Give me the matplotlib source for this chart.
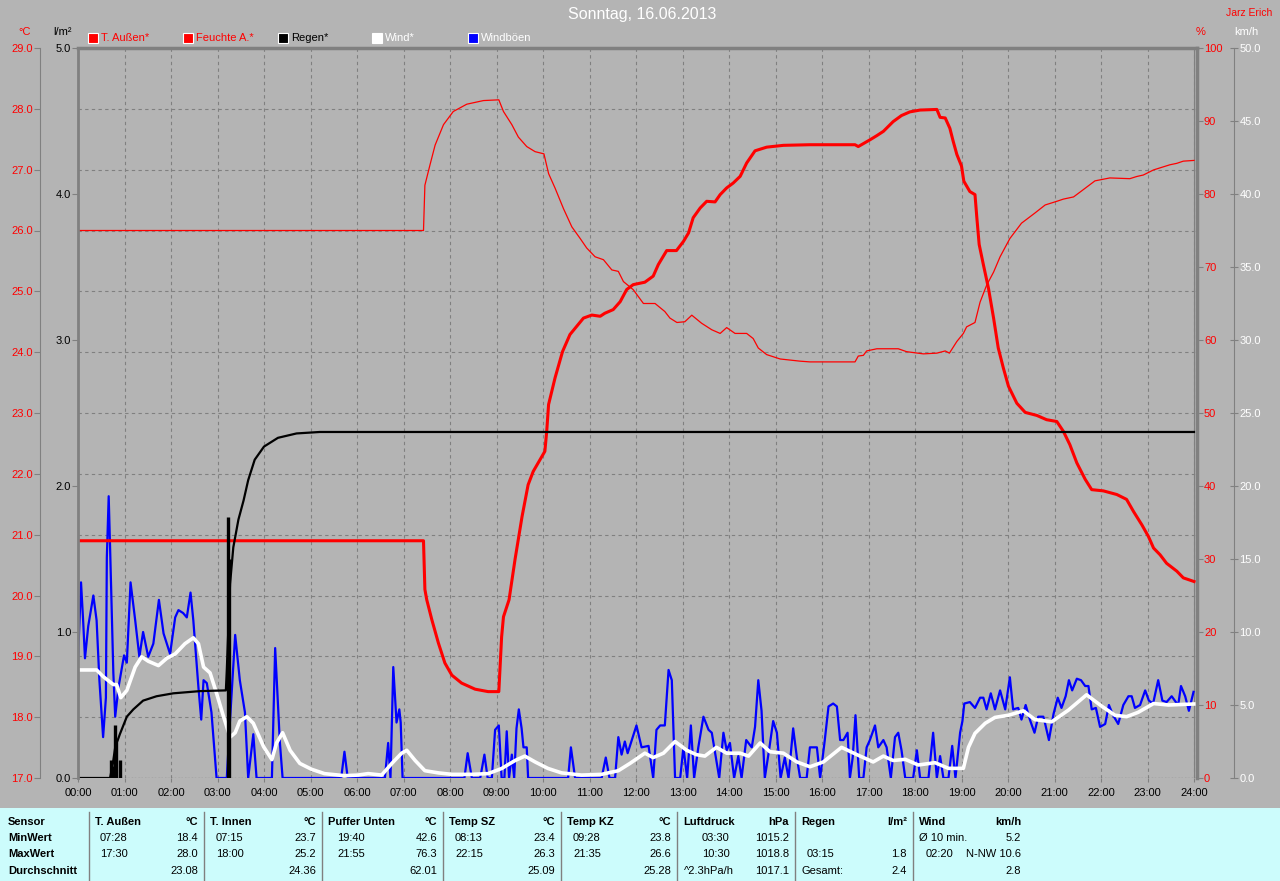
import matplotlib
matplotlib.use("Agg")
import matplotlib.pyplot as plt
from matplotlib.patches import Rectangle
from matplotlib.lines import Line2D
import numpy as np

plt.rcParams['font.family'] = ['Liberation Sans', 'DejaVu Sans']

# ---- data: (hour of day, value) ----
temp_pts = [
    (0.00, 20.9), (7.43, 20.9), (7.46, 20.1), (7.50, 19.93), (7.61, 19.6), (7.75, 19.22), (7.89, 18.89),
    (8.04, 18.69), (8.25, 18.56), (8.54, 18.46), (8.82, 18.42), (9.05, 18.42), (9.11, 19.32), (9.15, 19.65),
    (9.27, 19.93), (9.40, 20.6), (9.55, 21.3), (9.68, 21.82), (9.79, 22.04), (10.04, 22.37), (10.08, 22.70),
    (10.12, 23.14), (10.19, 23.36), (10.26, 23.58), (10.42, 24.01), (10.58, 24.29), (10.87, 24.56),
    (11.05, 24.61), (11.23, 24.59), (11.33, 24.64), (11.51, 24.70), (11.66, 24.83), (11.80, 25.03),
    (11.94, 25.11), (12.19, 25.15), (12.37, 25.25), (12.48, 25.44), (12.66, 25.67), (12.87, 25.67),
    (13.02, 25.82), (13.13, 25.96), (13.23, 26.21), (13.38, 26.37), (13.52, 26.48), (13.70, 26.47),
    (13.81, 26.59), (13.95, 26.70), (14.09, 26.78), (14.24, 26.89), (14.38, 27.11), (14.56, 27.31),
    (14.81, 27.37), (15.17, 27.40), (15.74, 27.41), (16.71, 27.41), (16.78, 27.38), (17.03, 27.49),
    (17.18, 27.56), (17.32, 27.63), (17.53, 27.79), (17.71, 27.89), (17.89, 27.95), (18.11, 27.98),
    (18.47, 27.99), (18.54, 27.86), (18.65, 27.85), (18.75, 27.68), (18.82, 27.47), (18.90, 27.25),
    (19.00, 27.06), (19.05, 26.81), (19.18, 26.64), (19.29, 26.59), (19.33, 26.21), (19.38, 25.77),
    (19.47, 25.44), (19.58, 25.05), (19.69, 24.56), (19.79, 24.07), (19.90, 23.74), (20.01, 23.44),
    (20.19, 23.16), (20.37, 23.01), (20.62, 22.96), (20.83, 22.89), (21.05, 22.86), (21.19, 22.70),
    (21.33, 22.48), (21.48, 22.18), (21.66, 21.91), (21.80, 21.74), (22.05, 21.72), (22.34, 21.66),
    (22.55, 21.58), (22.70, 21.38), (22.88, 21.16), (23.02, 20.97), (23.13, 20.78), (23.27, 20.67),
    (23.41, 20.53), (23.63, 20.40), (23.77, 20.29), (24.00, 20.23),
]

hum_pts = [
    (0.00, 75.0), (7.43, 75.0), (7.46, 81.2), (7.57, 84.0), (7.68, 86.7), (7.86, 89.5), (8.07, 91.3),
    (8.36, 92.3), (8.72, 92.8), (9.05, 92.9), (9.15, 91.3), (9.33, 89.5), (9.47, 87.8), (9.65, 86.5),
    (9.83, 85.8), (10.02, 85.5), (10.12, 82.8), (10.26, 80.8), (10.44, 78.0), (10.62, 75.5), (10.80, 73.9),
    (10.94, 72.6), (11.12, 71.4), (11.30, 71.0), (11.48, 69.6), (11.62, 69.4), (11.73, 68.0), (11.94, 66.9),
    (12.16, 65.0), (12.41, 65.0), (12.62, 63.9), (12.73, 63.0), (12.88, 62.4), (13.05, 62.5), (13.20, 63.4),
    (13.41, 62.3), (13.63, 61.4), (13.81, 60.9), (13.95, 61.7), (14.13, 60.9), (14.38, 60.9), (14.52, 60.2),
    (14.63, 58.9), (14.81, 58.0), (15.10, 57.4), (15.53, 57.1), (15.74, 57.0), (16.71, 57.0), (16.78, 57.8),
    (16.89, 57.9), (16.96, 58.5), (17.18, 58.8), (17.64, 58.8), (17.82, 58.4), (18.18, 58.1), (18.47, 58.2),
    (18.65, 58.5), (18.74, 58.2), (18.90, 59.8), (19.04, 60.9), (19.11, 61.8), (19.29, 62.4), (19.40, 65.2),
    (19.54, 67.5), (19.69, 69.3), (19.83, 71.4), (20.04, 73.9), (20.29, 76.0), (20.58, 77.4), (20.80, 78.5),
    (21.05, 79.0), (21.19, 79.3), (21.41, 79.6), (21.62, 80.6), (21.87, 81.8), (22.19, 82.2), (22.62, 82.1),
    (22.77, 82.4), (22.91, 82.6), (23.13, 83.3), (23.48, 84.0), (23.63, 84.2), (23.77, 84.5), (24.00, 84.6),
]

rain_sum_pts = [
    (0.00, 0.0), (0.69, 0.0), (0.75, 0.10), (0.80, 0.21), (0.90, 0.30), (1.05, 0.42), (1.19, 0.47),
    (1.40, 0.53), (1.69, 0.56), (2.05, 0.58), (2.62, 0.595), (3.18, 0.60), (3.20, 0.74), (3.27, 1.33),
    (3.34, 1.58), (3.45, 1.77), (3.56, 1.90), (3.66, 2.04), (3.80, 2.18), (4.00, 2.27), (4.30, 2.33),
    (4.70, 2.36), (5.20, 2.37), (24.00, 2.37),
]

rain_rate_t = [0.72, 0.74, 0.80, 0.82, 0.90, 3.22, 3.25]
rain_rate_v = [0.12, 0.08, 0.36, 0.25, 0.12, 1.79, 1.50]

wind_pts = [
    (0.00, 7.4), (0.40, 7.4), (0.54, 6.95), (0.76, 6.4), (0.83, 6.4), (0.92, 5.5), (1.05, 6.0), (1.23, 7.6),
    (1.37, 8.3), (1.51, 8.0), (1.73, 7.7), (1.91, 8.2), (2.09, 8.5), (2.30, 9.2), (2.48, 9.6), (2.59, 9.2),
    (2.70, 7.6), (2.84, 7.2), (2.98, 5.8), (3.13, 4.2), (3.27, 2.8), (3.38, 3.1), (3.48, 3.9), (3.63, 4.2),
    (3.77, 3.75), (3.99, 2.15), (4.17, 1.26), (4.27, 2.4), (4.40, 3.1), (4.56, 1.9), (4.77, 1.0),
    (5.02, 0.6), (5.30, 0.3), (5.73, 0.16), (6.02, 0.2), (6.24, 0.3), (6.53, 0.2), (6.75, 1.0), (6.96, 1.7),
    (7.07, 1.9), (7.25, 1.2), (7.46, 0.5), (7.75, 0.35), (8.04, 0.25), (8.47, 0.25), (8.82, 0.3),
    (9.11, 0.65), (9.40, 1.2), (9.61, 1.5), (9.83, 1.1), (10.11, 0.65), (10.40, 0.35), (10.83, 0.2),
    (11.26, 0.25), (11.62, 0.5), (11.87, 1.0), (12.19, 1.7), (12.37, 1.4), (12.59, 1.7), (12.84, 2.5),
    (13.09, 1.9), (13.30, 1.6), (13.48, 1.5), (13.73, 2.1), (13.95, 1.7), (14.24, 1.7), (14.42, 1.5),
    (14.67, 2.4), (14.88, 1.8), (15.17, 1.7), (15.46, 1.1), (15.74, 0.77), (16.03, 1.1), (16.42, 2.1),
    (16.75, 1.6), (17.10, 1.1), (17.32, 1.5), (17.53, 1.2), (17.79, 1.28), (18.07, 0.89), (18.43, 1.05),
    (18.72, 0.66), (19.04, 0.66), (19.15, 2.1), (19.29, 3.06), (19.51, 3.75), (19.72, 4.15), (20.01, 4.3),
    (20.33, 4.6), (20.58, 4.0), (20.94, 3.85), (21.30, 4.65), (21.69, 5.7), (22.01, 4.93), (22.30, 4.3),
    (22.55, 4.2), (22.80, 4.5), (23.13, 5.1), (23.45, 5.0), (24.00, 5.07),
]

gust_pts = [
    (0.00, 8.1), (0.065, 13.4), (0.11, 10.8), (0.15, 8.2), (0.22, 10.4), (0.33, 12.5), (0.40, 10.8),
    (0.46, 6.7), (0.54, 2.8), (0.60, 5.5), (0.62, 15.1), (0.66, 19.3), (0.69, 15.8), (0.76, 7.2),
    (0.80, 4.2), (0.87, 6.2), (0.99, 8.4), (1.05, 7.9), (1.13, 13.4), (1.23, 10.8), (1.32, 8.3),
    (1.40, 10.0), (1.51, 8.3), (1.62, 9.2), (1.74, 12.2), (1.84, 9.9), (1.98, 8.5), (2.09, 11.0),
    (2.16, 11.5), (2.26, 11.3), (2.34, 11.0), (2.42, 12.7), (2.48, 10.8), (2.59, 6.2), (2.65, 4.0),
    (2.70, 6.7), (2.77, 6.5), (2.87, 4.5), (2.98, 0.0), (3.20, 0.0), (3.27, 4.0), (3.38, 9.8), (3.48, 6.7),
    (3.59, 4.5), (3.66, 0.0), (3.77, 3.0), (3.84, 0.0), (4.17, 0.0), (4.24, 8.9), (4.34, 2.5), (4.40, 0.0),
    (5.66, 0.0), (5.73, 1.8), (5.80, 0.0), (6.60, 0.0), (6.67, 2.4), (6.72, 0.0), (6.78, 7.6), (6.85, 3.8),
    (6.91, 4.7), (6.94, 3.8), (6.98, 0.0), (8.31, 0.0), (8.38, 1.7), (8.47, 0.0), (8.65, 0.0), (8.74, 1.6),
    (8.81, 0.0), (8.90, 0.0), (8.97, 3.3), (9.05, 3.6), (9.11, 0.0), (9.17, 0.0), (9.22, 3.2), (9.27, 0.0),
    (9.33, 1.6), (9.38, 0.0), (9.43, 3.4), (9.48, 4.7), (9.54, 3.4), (9.58, 2.1), (9.65, 2.1), (9.68, 0.0),
    (10.54, 0.0), (10.60, 2.1), (10.69, 0.0), (11.26, 0.0), (11.35, 1.4), (11.43, 0.0), (11.55, 0.0),
    (11.62, 2.8), (11.69, 1.6), (11.76, 2.5), (11.82, 1.7), (12.01, 3.6), (12.12, 2.1), (12.27, 2.2),
    (12.37, 0.0), (12.44, 3.3), (12.52, 3.6), (12.62, 3.6), (12.70, 7.4), (12.77, 6.7), (12.84, 0.0),
    (12.95, 0.0), (13.02, 2.1), (13.10, 0.0), (13.18, 3.6), (13.25, 0.0), (13.34, 2.1), (13.45, 4.2),
    (13.56, 3.3), (13.63, 3.1), (13.79, 0.0), (13.88, 3.1), (13.95, 1.9), (14.02, 2.4), (14.11, 0.0),
    (14.20, 1.5), (14.27, 0.0), (14.37, 2.6), (14.49, 2.1), (14.56, 3.5), (14.63, 6.7), (14.70, 4.6),
    (14.77, 0.0), (14.87, 2.1), (14.95, 3.9), (15.03, 3.1), (15.11, 0.0), (15.20, 1.4), (15.28, 0.0),
    (15.38, 3.4), (15.46, 1.4), (15.53, 0.0), (15.67, 0.0), (15.74, 2.1), (15.89, 2.1), (15.96, 0.0),
    (16.06, 2.6), (16.14, 4.9), (16.24, 5.1), (16.32, 4.9), (16.39, 2.6), (16.46, 2.6), (16.55, 3.1),
    (16.60, 0.0), (16.66, 1.4), (16.72, 4.3), (16.80, 0.0), (16.89, 0.0), (16.96, 2.1), (17.03, 2.6),
    (17.14, 3.6), (17.21, 2.1), (17.32, 2.6), (17.39, 2.1), (17.48, 0.0), (17.57, 2.8), (17.64, 3.1),
    (17.71, 1.9), (17.79, 0.0), (17.96, 0.0), (18.04, 1.9), (18.11, 0.0), (18.29, 0.0), (18.39, 3.1),
    (18.47, 0.0), (18.54, 1.5), (18.61, 0.0), (18.72, 0.0), (18.80, 2.2), (18.87, 0.0), (18.97, 3.1),
    (19.02, 3.9), (19.06, 5.1), (19.18, 5.2), (19.29, 4.8), (19.40, 5.5), (19.47, 5.5), (19.54, 4.7),
    (19.63, 5.8), (19.72, 4.7), (19.83, 6.0), (19.94, 4.7), (20.04, 6.9), (20.11, 4.7), (20.22, 4.8),
    (20.29, 4.0), (20.38, 5.0), (20.47, 4.0), (20.57, 3.1), (20.65, 4.2), (20.76, 4.2), (20.80, 3.7),
    (20.88, 2.6), (20.98, 4.4), (21.07, 5.5), (21.15, 4.8), (21.24, 5.6), (21.31, 6.7), (21.38, 6.0),
    (21.48, 6.8), (21.57, 6.7), (21.66, 6.3), (21.73, 6.3), (21.80, 4.7), (21.89, 4.8), (21.98, 3.5),
    (22.09, 3.7), (22.17, 5.0), (22.26, 4.3), (22.37, 3.7), (22.48, 5.0), (22.59, 5.6), (22.66, 5.6),
    (22.73, 4.8), (22.84, 5.0), (22.95, 6.0), (23.03, 5.3), (23.12, 5.1), (23.23, 6.7), (23.32, 5.3),
    (23.41, 5.2), (23.52, 5.6), (23.61, 5.2), (23.66, 5.0), (23.72, 6.3), (23.81, 5.6), (23.89, 4.6),
    (23.99, 5.9),
]

hours = list(range(25))
hour_labels = [f"{h:02d}:00" for h in hours]
temp_ticks = list(range(17, 30))
rain_ticks = [0, 1, 2, 3, 4, 5]
hum_ticks = list(range(0, 101, 10))
wind_ticks = list(range(0, 51, 5))

legend_items = [("T. Außen*", "red", "red"), ("Feuchte A.*", "red", "red"),
                ("Regen*", "black", "black"), ("Wind*", "white", "white"),
                ("Windböen", "#0000ff", "white")]

row_labels = ["Sensor", "MinWert", "MaxWert", "Durchschnitt"]
sensor_names = ["T. Außen", "T. Innen", "Puffer Unten", "Temp SZ", "Temp KZ", "Luftdruck", "Regen", "Wind"]
sensor_units = ["°C", "°C", "°C", "°C", "°C", "hPa", "l/m²", "km/h"]
min_time = ["07:28", "07:15", "19:40", "08:13", "09:28", "03:30", "", "Ø 10 min."]
min_val = ["18.4", "23.7", "42.6", "23.4", "23.8", "1015.2", "", "5.2"]
max_time = ["17:30", "18:00", "21:55", "22:15", "21:35", "10:30", "03:15", "02:20"]
max_val = ["28.0", "25.2", "76.3", "26.3", "26.6", "1018.8", "1.8", "N-NW 10.6"]
avg_label = ["", "", "", "", "", "^2.3hPa/h", "Gesamt:", ""]
avg_val = ["23.08", "24.36", "62.01", "25.09", "25.28", "1017.1", "2.4", "2.8"]

temp_t, temp_v = zip(*temp_pts)
hum_t, hum_v = zip(*hum_pts)
rain_t, rain_v = zip(*rain_sum_pts)
wind_t, wind_v = zip(*wind_pts)
gust_t, gust_v = zip(*gust_pts)

# ---- layout (pixels) ----
W, H = 1280, 881
BG = '#b4b4b4'
GRID = '#808080'
L, R, T, B = 78, 1197, 48, 778


def fx(x):
    return x / W


def fy(y):
    return 1 - y / H


fig = plt.figure(figsize=(W / 100, H / 100), dpi=100, facecolor=BG)
ax = fig.add_axes([fx(L), fy(B), (R - L) / W, (B - T) / H])
ax.set_facecolor(BG)
xmax = 24 * (R - L) / (1194 - L)
ax.set_xlim(0, xmax)
ax.set_ylim(17, 29)
ax.set_xticks(hours, hour_labels)
ax.set_yticks(temp_ticks, [f"{v:.1f}" for v in temp_ticks])
ax.grid(True, color=GRID, ls=(0, (3, 3)), lw=0.8)
ax.axvline(24, color=GRID, lw=0.8)
ax.spines['right'].set_visible(False)
ax.spines['bottom'].set_visible(False)
ax.spines['top'].set_color(GRID)
ax.spines['top'].set_linewidth(2.5)
ax.spines['left'].set_position(('axes', (40 - L) / (R - L)))
ax.spines['left'].set_color(GRID)
ax.tick_params(axis='y', colors=GRID, labelcolor='red', labelsize=8, length=4, pad=1)
ax.tick_params(axis='x', colors=GRID, labelcolor='black', labelsize=8, length=3, pad=4)


def twin(a):
    t = a.twinx()
    for s in t.spines.values():
        s.set_visible(False)
    return t


# wind (km/h)
ax_w = twin(ax)
ax_w.set_ylim(0, 50)
ax_w.set_yticks(wind_ticks, [f"{v:.1f}" for v in wind_ticks])
ax_w.spines['right'].set_visible(True)
ax_w.spines['right'].set_position(('axes', (1234 - L) / (R - L)))
ax_w.spines['right'].set_color(GRID)
ax_w.tick_params(axis='y', colors=GRID, labelcolor='white', labelsize=8, length=6,
                 direction='inout', pad=1)
ax_w.plot(gust_t, gust_v, color='#0000ff', lw=1.6)
ax_w.plot(wind_t, wind_v, color='white', lw=2.6, solid_joinstyle='round')

# humidity (%)
ax_h = twin(ax)
ax_h.set_ylim(0, 100)
ax_h.set_yticks(hum_ticks, [str(v) for v in hum_ticks])
ax_h.spines['right'].set_visible(True)
ax_h.spines['right'].set_color(GRID)
ax_h.spines['right'].set_linewidth(2.5)
ax_h.tick_params(axis='y', colors=GRID, labelcolor='red', labelsize=8, length=4, pad=1)
ax_h.plot(hum_t, hum_v, color='red', lw=0.9)

# outside temperature (°C)
ax_tt = twin(ax)
ax_tt.set_ylim(17, 29)
ax_tt.set_yticks([])
ax_tt.plot(temp_t, temp_v, color='red', lw=2.2)

# rain (l/m²)
ax_r = twin(ax)
ax_r.set_ylim(0, 5)
ax_r.yaxis.tick_left()
ax_r.set_yticks(rain_ticks, [f"{v:.1f}" for v in rain_ticks])
ax_r.spines['left'].set_visible(True)
ax_r.spines['left'].set_color(GRID)
ax_r.spines['left'].set_linewidth(2)
ax_r.tick_params(axis='y', colors=GRID, labelcolor='black', labelsize=8, length=4, pad=1)
ax_r.axhline(0, color='black', ls=(0, (1, 2)), lw=0.8)
ax_r.plot(rain_t, rain_v, color='black', lw=1.6)
ax_r.vlines(rain_rate_t, 0, rain_rate_v, color='black', lw=2.4)

# ---- header texts ----
fig.text(fx(642), fy(15), "Sonntag, 16.06.2013", color='white', fontsize=11.5, ha='center', va='center')
fig.text(fx(1249), fy(13), "Jarz Erich", color='red', fontsize=7.5, ha='center', va='center')
fig.text(fx(25), fy(32), "°C", color='red', fontsize=8, ha='center', va='center')
fig.text(fx(63), fy(32), "l/m²", color='black', fontsize=8, ha='center', va='center')
fig.text(fx(1201), fy(32), "%", color='red', fontsize=8, ha='center', va='center')
fig.text(fx(1246), fy(32), "km/h", color='white', fontsize=8, ha='center', va='center')

legend_x = [88, 183, 278, 372, 468]
for lx, (lab, sq, tc) in zip(legend_x, legend_items):
    fig.patches.append(Rectangle((fx(lx), fy(43)), 10 / W, 10 / H, transform=fig.transFigure,
                                 facecolor=sq, edgecolor='white', lw=0.8))
    fig.text(fx(lx + 13), fy(38), lab, color=tc, fontsize=8, ha='left', va='center')

# ---- statistics table ----
fig.patches.append(Rectangle((0, 0), 1, fy(808), transform=fig.transFigure,
                             facecolor='#ccfcfc', edgecolor='none'))
seps = [89, 204, 322, 443, 561, 677, 795, 913, 1030]
row_y = [822, 838, 854, 871]
for sx in seps[:-1]:
    fig.lines.append(Line2D([fx(sx), fx(sx)], [fy(812), 0], transform=fig.transFigure,
                            color='#808080', lw=1))

for ry, lab in zip(row_y, row_labels):
    fig.text(fx(8), fy(ry), lab, fontsize=8, fontweight='bold', ha='left', va='center')

time_off = [11, 12, 15, 12, 12, 25, 12, 6]
for i in range(len(sensor_names)):
    x0 = seps[i]
    xr = seps[i + 1] - 6 if i < len(sensor_names) - 1 else 1021
    fig.text(fx(x0 + 6), fy(row_y[0]), sensor_names[i], fontsize=8, fontweight='bold', ha='left', va='center')
    fig.text(fx(xr), fy(row_y[0]), sensor_units[i], fontsize=8, fontweight='bold', ha='right', va='center')
    fig.text(fx(x0 + time_off[i]), fy(row_y[1]), min_time[i], fontsize=8, ha='left', va='center')
    fig.text(fx(xr), fy(row_y[1]), min_val[i], fontsize=8, ha='right', va='center')
    fig.text(fx(x0 + (13 if i == 7 else time_off[i])), fy(row_y[2]), max_time[i], fontsize=8,
             ha='left', va='center')
    fig.text(fx(xr), fy(row_y[2]), max_val[i], fontsize=8, ha='right', va='center')
    fig.text(fx(x0 + 7), fy(row_y[3]), avg_label[i], fontsize=8, ha='left', va='center')
    fig.text(fx(xr), fy(row_y[3]), avg_val[i], fontsize=8, ha='right', va='center')

fig.savefig("out.png", dpi=100, facecolor=BG)
plt.close(fig)
